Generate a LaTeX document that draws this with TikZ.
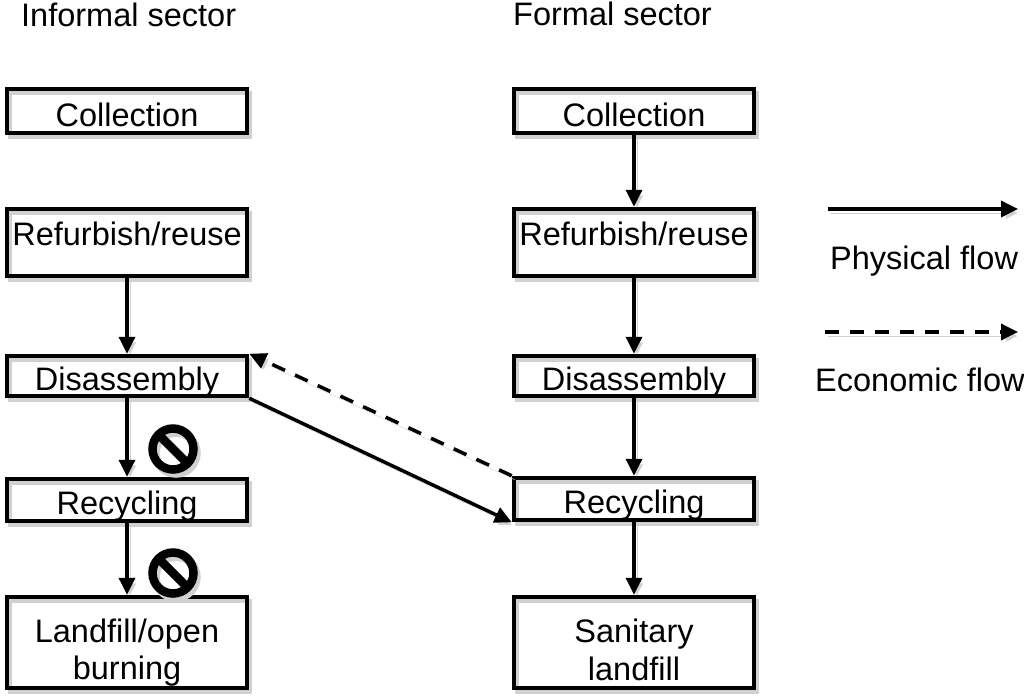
\documentclass[tikz,border=0pt]{standalone}
\usepackage{fontspec}
\setmainfont{Liberation Sans}
\usetikzlibrary{arrows.meta}
\tikzset{
  shadowed/.style={preaction={draw=black!18, transform canvas={shift={(3pt,-4pt)}}}},
  box/.style={draw, line width=4.5pt, minimum width=240pt, inner sep=0pt, shadowed},
  txt/.style={inner sep=0pt, anchor=base, font=\fontsize{32.5}{37}\selectfont},
  flow/.style={line width=3.5pt, -{Triangle[length=17pt,width=16pt]}, shadowed},
  econ/.style={flow, dash pattern=on 14pt off 11pt},
  ban/.style={circle, draw, line width=8.5pt, minimum size=41pt, inner sep=0pt, shadowed,
    path picture={\draw[line width=8.5pt] (path picture bounding box.north west) -- (path picture bounding box.south east);}},
}
\begin{document}
\begin{tikzpicture}[x=1pt,y=-1pt]
\useasboundingbox (0,0) rectangle (1024,698);
% titles
\node[txt, anchor=base west] (tinf) at (21,27) {Informal sector};
\node[txt, anchor=base west] (tfor) at (513,26) {Formal sector};
% left column boxes
\node[box, minimum height=44pt] (colL) at (127,111) {};
\node[box, minimum height=67pt] (refL) at (127,242.5) {};
\node[box, minimum height=40pt] (disL) at (127,376) {};
\node[box, minimum height=42pt] (recL) at (127,500) {};
\node[box, minimum height=91pt] (lanL) at (127,642.5) {};
% right column boxes
\node[box, minimum height=44pt] (colR) at (634,111) {};
\node[box, minimum height=67pt] (refR) at (634,242.5) {};
\node[box, minimum height=40pt] (disR) at (634,376) {};
\node[box, minimum height=42pt] (recR) at (634,499) {};
\node[box, minimum height=91pt] (sanR) at (634,642.5) {};
% texts
\node[txt] (tcolL) at (127,126) {Collection};
\node[txt] (trefL) at (127,245) {Refurbish/reuse};
\node[txt] (tdisL) at (127,390) {Disassembly};
\node[txt] (trecL) at (127,514) {Recycling};
\node[txt] (tlanL1) at (127,642) {Landfill/open};
\node[txt] (tlanL2) at (127,679) {burning};
\node[txt] (tcolR) at (634,126) {Collection};
\node[txt] (trefR) at (634,245) {Refurbish/reuse};
\node[txt] (tdisR) at (634,390) {Disassembly};
\node[txt] (trecR) at (634,513) {Recycling};
\node[txt] (tsanR1) at (634,642) {Sanitary};
\node[txt] (tsanR2) at (634,680) {landfill};
% left flows
\draw[flow] (refL.south) -- (disL.north);
\draw[flow] (disL.south) -- (recL.north);
\draw[flow] (recL.south) -- (lanL.north);
% right flows
\draw[flow] (colR.south) -- (refR.north);
\draw[flow] (refR.south) -- (disR.north);
\draw[flow] (disR.south) -- (recR.north);
\draw[flow] (recR.south) -- (sanR.north);
% cross flows
\draw[flow] (disL.south east) -- (recR.south west);
\draw[econ] (recR.north west) -- (disL.north east);
% ban symbols
\node[ban] (ban1) at (173,449) {};
\node[ban] (ban2) at (173,573) {};
% legend
\coordinate (pa) at (828,209);
\coordinate (pb) at (1018,209);
\coordinate (ea) at (825,332);
\coordinate (eb) at (1018,332);
\draw[flow] (pa) -- (pb);
\draw[econ] (ea) -- (eb);
\node[txt, anchor=base west] (tphys) at (830,269) {Physical flow};
\node[txt, anchor=base west] (tecon) at (815,391) {Economic flow};
\end{tikzpicture}
\end{document}
